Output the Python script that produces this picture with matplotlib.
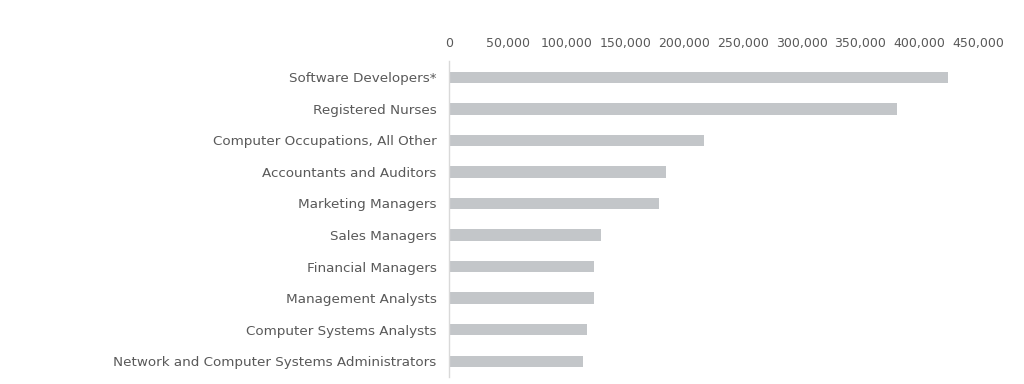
import matplotlib
matplotlib.use("Agg")
import matplotlib.pyplot as plt
from matplotlib.ticker import FuncFormatter

categories = [
    "Software Developers*",
    "Registered Nurses",
    "Computer Occupations, All Other",
    "Accountants and Auditors",
    "Marketing Managers",
    "Sales Managers",
    "Financial Managers",
    "Management Analysts",
    "Computer Systems Analysts",
    "Network and Computer Systems Administrators",
]
values = [424500, 380700, 217300, 184900, 178500, 129600, 123700, 123700, 117600, 114100]
xticks = [0, 50000, 100000, 150000, 200000, 250000, 300000, 350000, 400000, 450000]

fig = plt.figure(figsize=(10.24, 3.84), dpi=100)
ax = fig.add_axes([449 / 1024, 1 - 377 / 384, (978 - 449) / 1024, (377 - 61.5) / 384])

ypos = list(range(len(categories)))
ax.barh(ypos, values, height=0.36, color="#c3c6c9")
ax.set_ylim(len(categories) - 0.5, -0.5)
ax.set_xlim(0, 450000)
ax.set_yticks(ypos)
ax.set_yticklabels(categories)
ax.set_xticks(xticks)
ax.xaxis.set_major_formatter(FuncFormatter(lambda v, p: f"{int(v):,}"))
ax.xaxis.tick_top()
ax.tick_params(axis="both", length=0, colors="#595959")
ax.tick_params(axis="x", pad=8, labelsize=9)
ax.tick_params(axis="y", pad=9, labelsize=9.7)
for s in ["top", "right", "bottom"]:
    ax.spines[s].set_visible(False)
ax.spines["left"].set_color("#d9d9d9")
ax.spines["left"].set_linewidth(1.0)

fig.savefig("out.png", dpi=100)
